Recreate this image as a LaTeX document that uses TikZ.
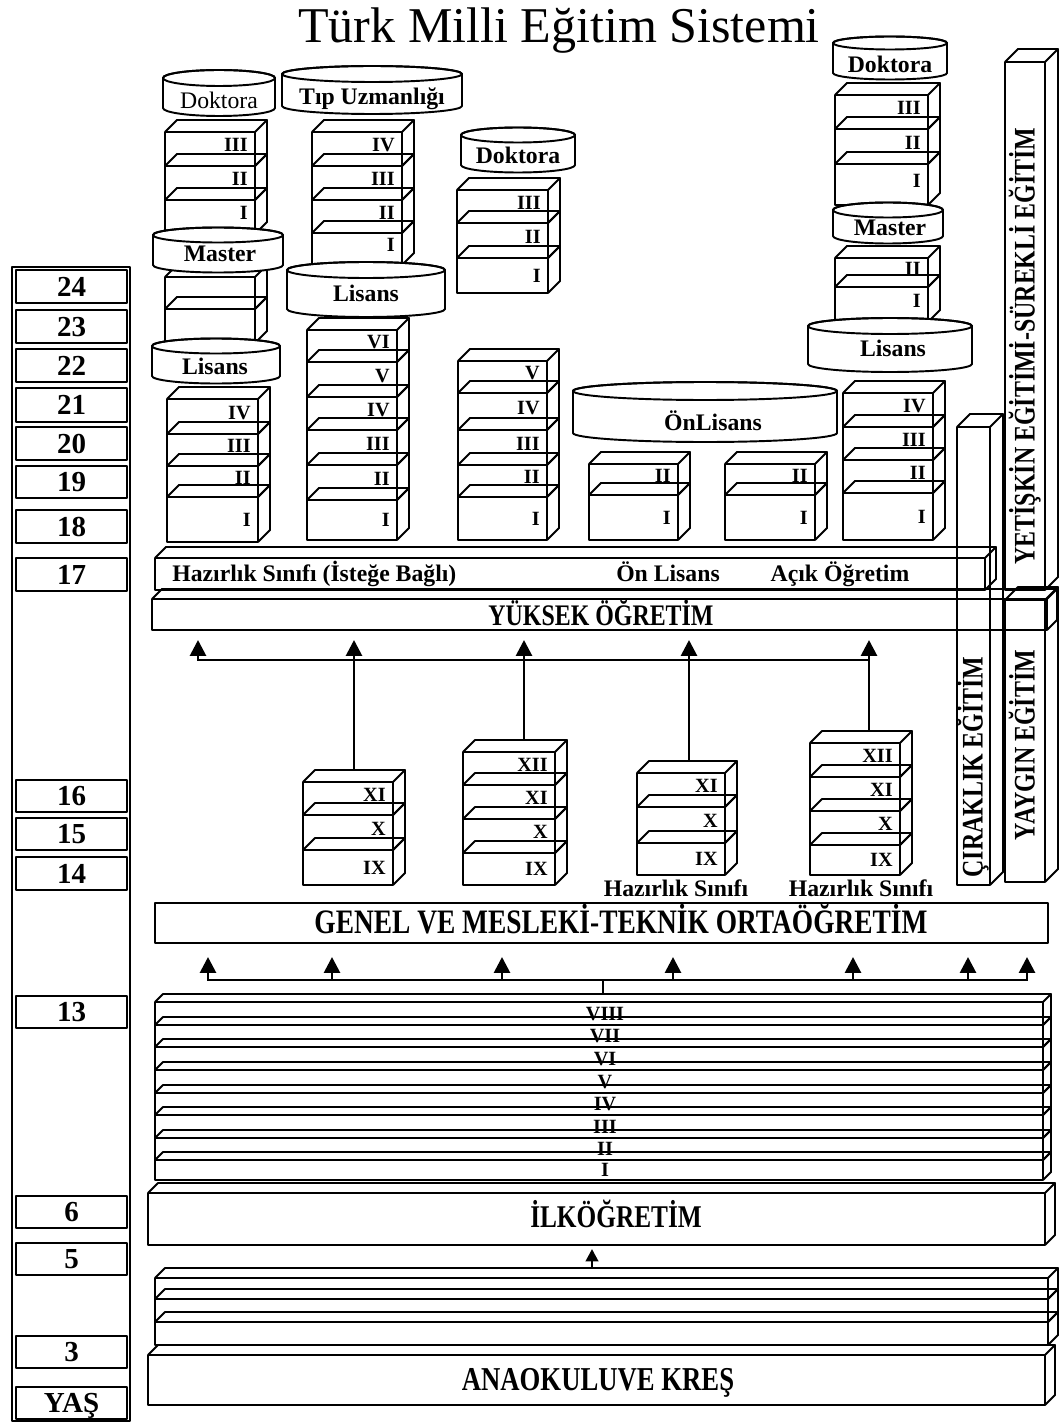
\documentclass[tikz,border=0pt]{standalone}
\usepackage{fontspec}
\setmainfont{Liberation Serif}
\newfontfamily\narrowfont[FakeStretch=0.8]{Liberation Serif}
\usetikzlibrary{arrows.meta}

\def\px{0.02cm}
% 3D slab: front x1, x2, front top, front bottom, depth
\newcommand{\gbox}[5]{%
  \draw[boxline] (#1,#3) rectangle (#2,#4)
    (#1,#3) -- (#1+#5,#3-#5) -- (#2+#5,#3-#5) -- (#2,#3)
    (#2+#5,#3-#5) -- (#2+#5,#4-#5) -- (#2,#4);}
% one class of a stack, numeral at the right
\newcommand{\layer}[5]{%
  \gbox{#1}{#2}{#3}{#4}{12}
  \node[num, anchor=east] (n#2-#3) at (#2-7,{(#3+#4-12)/2+2}) {#5};}
\newcommand{\blayer}[5]{%
  \gbox{#1}{#2}{#3}{#4}{12}
  \node[num, anchor=east] (n#2-#3) at (#2-7,{(#3+#4)/2}) {#5};}
% cylinder: centre x, x radius, top y, bottom y, y radius
\newcommand{\cyl}[5]{%
  \draw[boxline, fill=white] (#1-#2,#3) -- (#1-#2,#4)
    arc[start angle=180, end angle=360, x radius=#2*\px, y radius=#5*\px]
    -- (#1+#2,#3)
    arc[start angle=0, end angle=180, x radius=#2*\px, y radius=#5*\px] -- cycle;
  \draw[boxline] (#1,#3) ellipse[x radius=#2*\px, y radius=#5*\px];}

\tikzset{
  boxline/.style={line width=1.1pt, line join=round},
  conn/.style={line width=1.6pt},
  upar/.style={conn, -{Triangle[width=9pt,length=9pt]}},
  num/.style={font=\fontsize{11.5}{12}\selectfont\bfseries, inner sep=0pt, text height=7.5pt, text depth=0pt},
  lbl/.style={font=\fontsize{13.5}{15}\selectfont\bfseries, inner sep=0pt, text height=9pt, text depth=0pt},
  bar/.style={font=\narrowfont\bfseries\fontsize{17}{18}\selectfont, inner sep=0pt, text height=11pt, text depth=0pt},
  age/.style={font=\fontsize{16.5}{18}\selectfont\bfseries, inner sep=0pt, text height=11pt, text depth=0pt},
}

\begin{document}
\begin{tikzpicture}[x=0.02cm, y=-0.02cm]
\useasboundingbox (0,0) rectangle (1062,1422);

% Title
\node[font=\fontsize{28.5}{30}\selectfont, anchor=base, inner sep=0pt] (title) at (559,43) {Türk Milli Eğitim Sistemi};

% Age column
\draw[boxline] (12,267) rectangle (130,1421);
\foreach \a/\t/\b in {24/270/303, 23/310/343, 22/349/382, 21/388/422, 20/427/460, 19/466/498, 18/510/543, 17/558/591, 16/780/812, 15/818/850, 14/857/890, 13/996/1028, 6/1196/1228, 5/1243/1275, 3/1336/1368}
{
  \draw[boxline] (16,\t) rectangle (127,\b);
  \node[age] (age\a) at (71.5,{(\t+\b)/2}) {\a};
}
\draw[boxline] (16,1387) rectangle (127,1419);
\node[age] (yas) at (71.5,1403) {YAŞ};

% Right hand bars
\gbox{1005}{1045}{62}{590}{13}
\node[bar, rotate=90] (yetiskin) at (1025,346) {YETİŞKİN EĞİTİMİ-SÜREKLİ EĞİTİM};
\gbox{1005}{1045}{600}{882}{13}
\node[bar, rotate=90] (yaygin) at (1025,745) {YAYGIN EĞİTİM};
\gbox{957}{990}{427}{885}{13}
\node[bar, rotate=90] (cirak) at (973,767) {ÇIRAKLIK EĞİTİM};

% Pre-school
\gbox{148}{1045}{1355}{1405}{10}
\node[bar, font=\narrowfont\bfseries\fontsize{19}{20}\selectfont, text height=12.5pt] (anaokulu) at (598,1380) {ANAOKULUVE KREŞ};
\gbox{155}{1048}{1278}{1299}{10}
\gbox{155}{1048}{1299}{1322}{10}
\gbox{155}{1048}{1322}{1345}{10}
\coordinate (kres-top) at (592,1268);
\coordinate (ilk-bot) at (592,1249);
\draw[conn, -{Triangle[width=7pt,length=7pt]}] (kres-top) -- (ilk-bot);

% Primary school
\gbox{148}{1045}{1193}{1245}{10}
\node[bar, font=\narrowfont\bfseries\fontsize{18}{20}\selectfont, text height=12pt] (ilk) at (616,1217) {İLKÖĞRETİM};
\foreach \t/\b/\r in {1002/1025/VIII, 1025/1047/VII, 1047/1070/VI, 1070/1093/V, 1093/1115/IV, 1115/1138/III, 1138/1160/II, 1160/1180/I}
{
  \gbox{155}{1043}{\t}{\b}{8}
  \node[num] (g\r) at (605,{(\t+\b)/2}) {\r};
}

% Arrows to secondary school
\coordinate (bus) at (603,980);
\draw[conn] (bus) -- (603,994);
\draw[upar] (bus) -- (208,980) -- (208,957);
\draw[upar] (bus) -- (1027,980) -- (1027,957);
\foreach \x in {332,502,673,853,968}
  \draw[upar] (\x,980) -- (\x,957);

% Secondary school
\draw[boxline] (155,903) rectangle (1048,943);
\node[bar, font=\narrowfont\bfseries\fontsize{19.5}{21}\selectfont, text height=12.5pt] (genel) at (621,923) {GENEL VE MESLEKİ-TEKNİK ORTAÖĞRETİM};

\layer{303}{393}{782}{815}{XI}
\layer{303}{393}{815}{850}{X}
\blayer{303}{393}{850}{885}{IX}

\layer{463}{555}{752}{785}{XII}
\layer{463}{555}{785}{819}{XI}
\layer{463}{555}{819}{853}{X}
\blayer{463}{555}{853}{885}{IX}

\layer{637}{725}{773}{807}{XI}
\layer{637}{725}{807}{843}{X}
\blayer{637}{725}{843}{875}{IX}
\node[lbl] (haz-c) at (676,889) {Hazırlık Sınıfı};

\layer{810}{900}{743}{777}{XII}
\layer{810}{900}{777}{811}{XI}
\layer{810}{900}{811}{845}{X}
\blayer{810}{900}{845}{875}{IX}
\node[lbl] (haz-d) at (861,889) {Hazırlık Sınıfı};

% Arrows to higher education
\draw[upar] (354,770) -- (354,640);
\draw[upar] (524,740) -- (524,640);
\draw[upar] (689,761) -- (689,640);
\draw[upar] (869,731) -- (869,640);
\draw[upar] (869,660) -- (198,660) -- (198,640);

% Higher education bars
\gbox{152}{1047}{599}{630}{10}
\node[bar] (yuksek) at (601,616) {YÜKSEK ÖĞRETİM};
\gbox{155}{985}{558}{590}{11}
\node[lbl, anchor=west] (hazirlik) at (172,574) {Hazırlık Sınıfı (İsteğe Bağlı)};
\node[lbl] (onlisans) at (668,574) {Ön Lisans};
\node[lbl] (acik) at (840,574) {Açık Öğretim};

% Column 1
\layer{165}{255}{132}{166}{III}
\layer{165}{255}{166}{200}{II}
\layer{165}{255}{200}{234}{I}
\gbox{165}{255}{277}{309}{12}
\gbox{165}{255}{309}{343}{12}
\layer{167}{258}{399}{434}{IV}
\layer{167}{258}{434}{466}{III}
\layer{167}{258}{466}{497}{II}
\blayer{167}{258}{497}{542}{I}

% Column 2
\layer{312}{402}{132}{166}{IV}
\layer{312}{402}{166}{200}{III}
\layer{312}{402}{200}{233}{II}
\layer{312}{402}{233}{265}{I}
\layer{307}{397}{330}{362}{VI}
\layer{307}{397}{362}{397}{V}
\layer{307}{397}{397}{430}{IV}
\layer{307}{397}{430}{465}{III}
\layer{307}{397}{465}{500}{II}
\blayer{307}{397}{500}{540}{I}

% Column 3
\layer{457}{548}{190}{223}{III}
\layer{457}{548}{223}{258}{II}
\blayer{457}{548}{258}{293}{I}
\layer{458}{547}{361}{393}{V}
\layer{458}{547}{393}{430}{IV}
\layer{458}{547}{430}{465}{III}
\layer{458}{547}{465}{497}{II}
\blayer{458}{547}{497}{540}{I}

% Associate degree
\layer{589}{678}{464}{495}{II}
\blayer{589}{678}{495}{540}{I}
\layer{725}{815}{464}{495}{II}
\blayer{725}{815}{495}{540}{I}

% Column 5
\layer{835}{928}{95}{129}{III}
\layer{835}{928}{129}{164}{II}
\layer{835}{928}{164}{205}{I}
\layer{835}{928}{258}{287}{II}
\layer{835}{928}{287}{322}{I}
\layer{843}{933}{393}{427}{IV}
\layer{843}{933}{427}{460}{III}
\layer{843}{933}{460}{493}{II}
\blayer{843}{933}{493}{540}{I}

% Degree cylinders
\cyl{219}{56}{78}{108}{8}
\node[lbl, font=\fontsize{13.5}{15}\selectfont] (dok1) at (219,101) {Doktora};
\cyl{372}{90}{74}{106}{8}
\node[lbl] (tip) at (372,97) {Tıp Uzmanlığı};
\cyl{518}{57}{135}{165}{7.5}
\node[lbl] (dok3) at (518,156) {Doktora};
\cyl{890}{57}{43}{73}{6.5}
\node[lbl] (dok5) at (890,65) {Doktora};
\cyl{218}{65}{235}{265}{7.5}
\node[lbl] (mas1) at (220,254) {Master};
\cyl{216}{64}{346}{376}{7.5}
\node[lbl] (lis1) at (215,367) {Lisans};
\cyl{366}{79}{270}{309}{8}
\node[lbl] (lis2) at (366,294) {Lisans};
\cyl{705}{132}{391}{433}{9}
\node[lbl] (onlis) at (713,423) {ÖnLisans};
\cyl{888}{55}{210}{236}{7.5}
\node[lbl] (mas5) at (890,228) {Master};
\cyl{890}{82}{326}{364}{8}
\node[lbl] (lis5) at (893,349) {Lisans};
\end{tikzpicture}
\end{document}
